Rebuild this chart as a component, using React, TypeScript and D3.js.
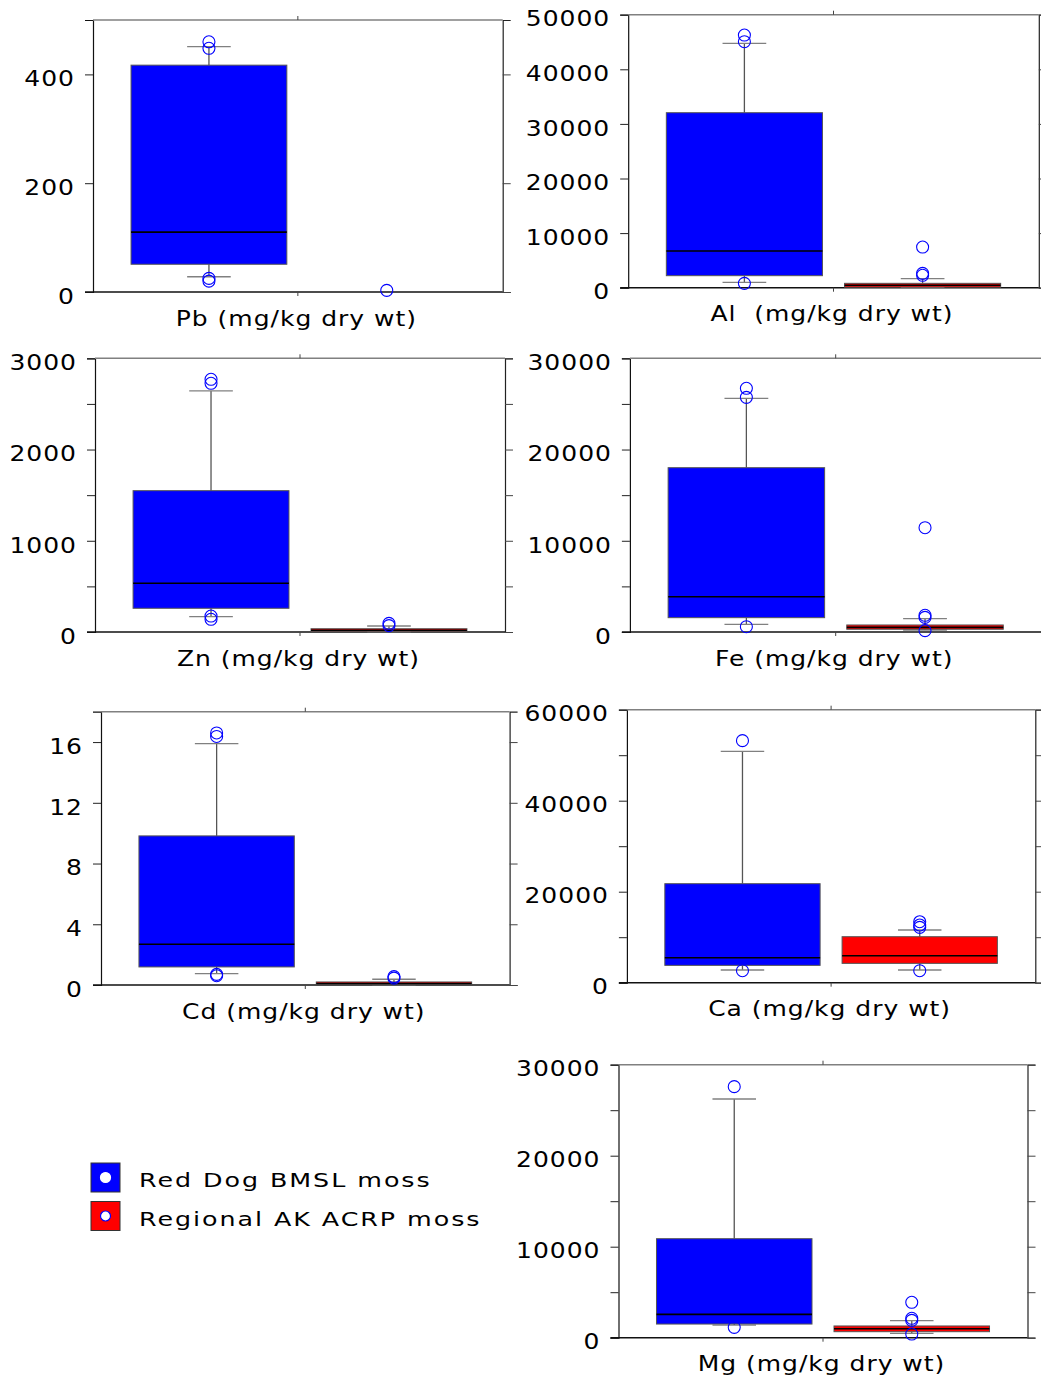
import React, { useEffect, useRef } from 'react';
import * as d3 from 'd3';

// element panels, in reading order
const titles = ['Pb (mg/kg dry wt)', 'Al  (mg/kg dry wt)', 'Zn (mg/kg dry wt)', 'Fe (mg/kg dry wt)',
  'Cd (mg/kg dry wt)', 'Ca (mg/kg dry wt)', 'Mg (mg/kg dry wt)'];
const yMax = [500, 50000, 3000, 30000, 18, 60000, 30000];
const tickStep = [200, 10000, 500, 5000, 4, 10000, 5000];
const labelStep = [200, 10000, 1000, 10000, 4, 20000, 10000];

const groups = ['Red Dog BMSL moss', 'Regional AK ACRP moss'];

// [lower whisker, q1, median, q3, upper whisker]
const redDogStats = [
  [28, 51, 110, 417, 451],
  [990, 2200, 6720, 32050, 44760],
  [168, 260, 534, 1549, 2642],
  [840, 1570, 3870, 18010, 25610],
  [0.75, 1.19, 2.68, 9.82, 15.9],
  [2790, 3810, 5500, 21760, 50850],
  [1390, 1500, 2560, 10880, 26230],
];
const regionalStats = [
  null,
  [60, 100, 440, 800, 1650],
  [5, 8, 20, 36, 66],
  [220, 300, 510, 770, 1460],
  [0.02, 0.03, 0.1, 0.2, 0.38],
  [2790, 4250, 5930, 10110, 11580],
  [480, 660, 990, 1290, 1870],
];
const redDogOutliers = [
  [460, 448, 25, 20],
  [46270, 45050, 800],
  [2770, 2726, 175, 139],
  [26710, 25720, 580],
  [16.6, 16.37, 0.61, 0.7],
  [53200, 2640],
  [27590, 1140],
];
const regionalOutliers = [
  [3],
  [7450, 2630, 2270],
  [95, 70],
  [11430, 1830, 1600, 150],
  [0.55, 0.45],
  [13400, 12680, 12170, 2640],
  [3890, 2130, 1900, 400],
];

// plot frames (pixel layout)
const frames = [
  { left: 93, right: 502.7, top: 20, bottom: 292 },
  { left: 628.2, right: 1038.8, top: 14.7, bottom: 287.7 },
  { left: 95, right: 505, top: 358.3, bottom: 632 },
  { left: 629.9, right: 1041.5, top: 358.3, bottom: 632 },
  { left: 101, right: 509.6, top: 711.7, bottom: 985 },
  { left: 626.9, right: 1035.3, top: 709.7, bottom: 982.7 },
  { left: 618.5, right: 1027.5, top: 1064.7, bottom: 1337.7 },
];

const FONT = '"DejaVu Sans", Verdana, sans-serif';
const SX = 1.22; // the original lettering is drawn wide
const colors = ['#0000ff', '#ff0000'];

export default function App() {
  const svgRef = useRef<SVGSVGElement>(null);

  useEffect(() => {
    if (!svgRef.current) return;
    const svg = d3.select(svgRef.current);
    svg.selectAll('*').remove();

    svg.append('rect').attr('width', 1041).attr('height', 1380).attr('fill', '#fff');

    titles.forEach((title, i) => {
      const f = frames[i];
      const g = svg.append('g');

      const x = d3.scaleBand<string>()
        .domain(groups)
        .range([f.left, f.right])
        .paddingInner(0.124)
        .paddingOuter(0.214);

      const y = d3.scaleLinear()
        .domain([0, yMax[i]])
        .range([f.bottom, f.top]);

      const ticks = d3.range(0, yMax[i] + tickStep[i] / 2, tickStep[i]);
      const isLabel = (v: number) => Math.abs(v / labelStep[i] - Math.round(v / labelStep[i])) < 1e-6;

      // left axis
      g.append('g')
        .attr('transform', `translate(${f.left},0)`)
        .call(d3.axisLeft(y).tickValues(ticks).tickSize(8)
          .tickFormat((d: any) => (isLabel(d) ? d3.format('d')(d) : '')))
        .call(a => a.select('.domain').attr('stroke', '#111').attr('stroke-width', 1.2))
        .call(a => a.selectAll('.tick line').attr('stroke', '#222').attr('stroke-width', 1))
        .call(a => a.selectAll('.tick text')
          .attr('fill', '#000')
          .attr('font-family', FONT)
          .attr('font-size', 20.5)
          .attr('letter-spacing', 0.8)
          .attr('x', -18 / SX)
          .attr('transform', `scale(${SX},1)`)
          .attr('dy', '0.55em'));

      // right axis
      g.append('g')
        .attr('transform', `translate(${f.right},0)`)
        .call(d3.axisRight(y).tickValues(ticks).tickSize(8).tickFormat(() => ''))
        .call(a => a.select('.domain').attr('stroke', '#222').attr('stroke-width', 1.2))
        .call(a => a.selectAll('.tick line').attr('stroke', '#444'));

      // top & bottom lines with the single centre tick
      const mid = (f.left + f.right) / 2;
      g.append('line').attr('x1', f.left).attr('x2', f.right).attr('y1', f.top).attr('y2', f.top)
        .attr('stroke', '#808080').attr('stroke-width', 1.6);
      g.append('line').attr('x1', mid).attr('x2', mid).attr('y1', f.top - 4).attr('y2', f.top)
        .attr('stroke', '#444');
      g.append('line').attr('x1', f.left - 8).attr('x2', f.right).attr('y1', f.bottom).attr('y2', f.bottom)
        .attr('stroke', '#111').attr('stroke-width', 1.4);
      g.append('line').attr('x1', mid).attr('x2', mid).attr('y1', f.bottom).attr('y2', f.bottom + 4)
        .attr('stroke', '#444');

      // boxes
      const bw = x.bandwidth();
      const capW = bw * 0.28;
      [redDogStats[i], regionalStats[i]].forEach((s, gi) => {
        if (!s) return;
        const x0 = x(groups[gi])!;
        const cx = x0 + bw / 2;
        const [lo, q1, med, q3, hi] = s;
        g.append('line').attr('x1', cx).attr('x2', cx).attr('y1', y(q3)).attr('y2', y(hi))
          .attr('stroke', '#555').attr('stroke-width', 1.3);
        g.append('line').attr('x1', cx).attr('x2', cx).attr('y1', y(q1)).attr('y2', y(lo))
          .attr('stroke', '#555').attr('stroke-width', 1.3);
        g.append('line').attr('x1', cx - capW / 2).attr('x2', cx + capW / 2).attr('y1', y(hi)).attr('y2', y(hi))
          .attr('stroke', '#808080').attr('stroke-width', 1.3);
        g.append('line').attr('x1', cx - capW / 2).attr('x2', cx + capW / 2).attr('y1', y(lo)).attr('y2', y(lo))
          .attr('stroke', '#808080').attr('stroke-width', 1.3);
        g.append('rect')
          .attr('x', x0)
          .attr('y', y(q3))
          .attr('width', bw)
          .attr('height', Math.max(1, y(q1) - y(q3)))
          .attr('fill', colors[gi])
          .attr('stroke', '#555')
          .attr('stroke-width', 1);
        g.append('line').attr('x1', x0).attr('x2', x0 + bw)
          .attr('y1', y(med)).attr('y2', y(med))
          .attr('stroke', '#000').attr('stroke-width', 1.6);
      });

      // outliers
      [redDogOutliers[i], regionalOutliers[i]].forEach((pts, gi) => {
        const cx = x(groups[gi])! + bw / 2;
        g.selectAll(null)
          .data(pts)
          .enter()
          .append('circle')
          .attr('cx', cx)
          .attr('cy', d => y(d))
          .attr('r', 6)
          .attr('fill', 'none')
          .attr('stroke', '#0000ff')
          .attr('stroke-width', 1.1);
      });

      // axis title
      g.append('text')
        .attr('transform', `translate(${mid - 1.5},${f.bottom + 33.5}) scale(${SX},1)`)
        .attr('text-anchor', 'middle')
        .attr('font-family', FONT)
        .attr('font-size', 20.5)
        .attr('letter-spacing', 0.8)
        .attr('fill', '#000')
        .style('white-space', 'pre')
        .text(title);
    });

    // legend
    const legend = svg.append('g').attr('transform', 'translate(91,1163)');
    groups.forEach((name, gi) => {
      const row = legend.append('g').attr('transform', `translate(0,${gi * 38.5})`);
      row.append('rect').attr('width', 29).attr('height', 29)
        .attr('fill', colors[gi]).attr('stroke', '#333').attr('stroke-width', 1);
      row.append('circle').attr('cx', 14.5).attr('cy', 14.5).attr('r', 5)
        .attr('fill', '#fff').attr('stroke', gi === 0 ? '#fff' : '#0000ff').attr('stroke-width', 1.2);
      row.append('text')
        .attr('transform', `translate(48,24) scale(1.3,1)`)
        .attr('font-family', FONT)
        .attr('font-size', 19.5)
        .attr('letter-spacing', 1.5)
        .attr('fill', '#000')
        .text(name);
    });
  }, []);

  return (
    <svg
      ref={svgRef}
      width={1041}
      height={1380}
      style={{ position: 'absolute', left: 0, top: 0, display: 'block' }}
    />
  );
}
